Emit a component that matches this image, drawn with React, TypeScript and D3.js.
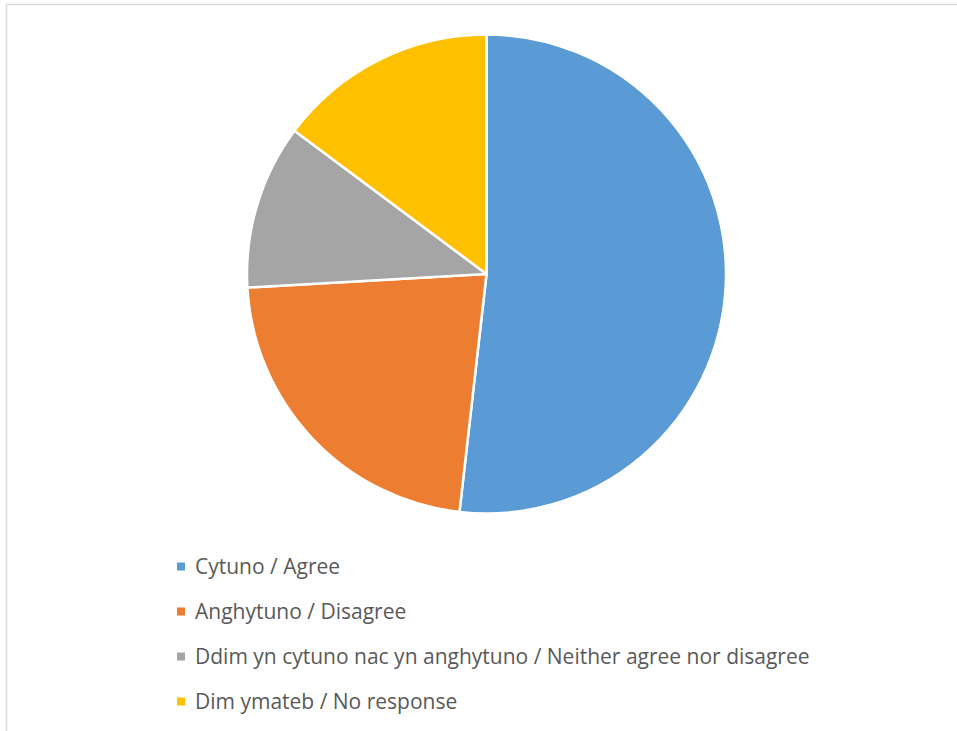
import React from "react";
import * as d3 from "d3";

const categories = [
  "Cytuno / Agree",
  "Anghytuno / Disagree",
  "Ddim yn cytuno nac yn anghytuno / Neither agree nor disagree",
  "Dim ymateb / No response",
];
const values = [51.8, 22.3, 11.1, 14.8];
const colors = ["#5B9BD5", "#ED7D31", "#A5A5A5", "#FFC000"];

export default function App() {
  const W = 957, H = 731;
  const cx = 486.5, cy = 274, r = 239.5;
  const pie = d3.pie<number>().sort(null).value((d) => d);
  const arcs = pie(values);
  const arc = d3.arc<d3.PieArcDatum<number>>().innerRadius(0).outerRadius(r);
  const legendY = d3.scalePoint<number>().domain(d3.range(categories.length)).range([567, 702]);
  return (
    <svg width={W} height={H} style={{ position: "absolute", left: 0, top: 0, background: "#fff" }}>
      <rect x={6.5} y={4.5} width={W + 20} height={H + 20} fill="#fff" stroke="#D9D9D9" strokeWidth={1.5} />
      <g transform={`translate(${cx},${cy})`}>
        {arcs.map((a, i) => (
          <path key={i} d={arc(a) || ""} fill={colors[i]} stroke="#fff" strokeWidth={2.5} strokeLinejoin="round" />
        ))}
      </g>
      <g>
        {categories.map((c, i) => (
          <g key={i} transform={`translate(177,${legendY(i)})`}>
            <rect x={0} y={-4.5} width={8} height={8} fill={colors[i]} />
            <text x={18} y={0} dy="0.35em" fontFamily="'Open Sans', sans-serif" fontSize={21} fill="#595959">
              {c}
            </text>
          </g>
        ))}
      </g>
    </svg>
  );
}
